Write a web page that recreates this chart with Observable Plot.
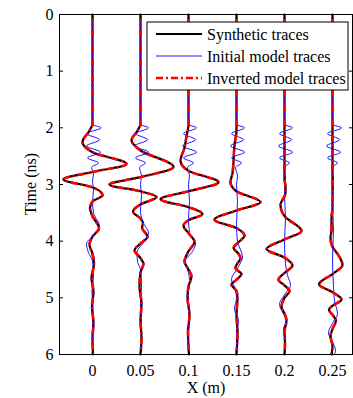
<!DOCTYPE html>
<html>
<head>
<meta charset="utf-8">
<script src="https://cdn.jsdelivr.net/npm/d3@7"></script>
<script src="https://cdn.jsdelivr.net/npm/@observablehq/plot@0.6"></script>
<style>
  html, body { margin: 0; padding: 0; background: #fff; }
</style>
</head>
<body>
<div id="chart"></div>
<script>
// Receiver offsets (m) and axis ticks
const offsets = [0, 0.05, 0.1, 0.15, 0.2, 0.25];
const timeTicks = [0, 1, 2, 3, 4, 5, 6];

// Trace samples: [time (ns), amplitude]
const synth0 = [[0,0],[1.93,0],[2.05,-3],[2.25,-10],[2.43,0],[2.64,34],[2.78,0],[2.91,-29],[3.05,0],[3.19,10],[3.30,0],[3.42,-2.5],[3.56,0],[3.77,6.5],[3.92,0],[4.06,-3],[4.22,0],[4.40,1.5],[4.65,-1],[4.90,1],[5.15,-0.5],[5.45,1],[5.70,0],[6,0.5]];
const synth1 = [[0,0],[1.93,0],[2.05,-3],[2.22,-9],[2.40,0],[2.69,33],[2.87,0],[3.00,-31],[3.12,0],[3.22,16],[3.35,0],[3.48,-7.5],[3.60,0],[3.68,2.5],[3.76,1.5],[3.92,7],[4.04,0],[4.16,-6],[4.30,0],[4.40,3],[4.55,0],[4.80,-1],[5.10,1],[5.40,0],[5.70,1],[6,0]];
const synth2 = [[0,0],[1.95,0],[2.15,-2],[2.35,-4],[2.58,-8],[2.76,0],[2.96,30],[3.12,0],[3.26,-28],[3.40,0],[3.52,14],[3.63,0],[3.73,-5],[3.86,0],[4.01,6],[4.18,0],[4.36,-4],[4.50,0],[4.62,3],[4.80,0],[5.00,-1],[5.30,1],[5.60,-0.5],[6,0.5]];
const synth3 = [[0,0],[2.05,0],[2.30,-2],[2.60,-3],[2.80,-4],[2.96,-6],[3.12,0],[3.31,24],[3.46,0],[3.62,-22],[3.77,0],[3.90,8],[4.05,0],[4.12,-3],[4.22,2],[4.30,4],[4.42,0],[4.48,-1],[4.58,5],[4.68,0],[4.77,-5],[4.88,0],[5.00,1],[5.30,0],[5.60,1],[6,0]];
const synth4 = [[0,0],[2.90,0],[3.05,1],[3.15,1],[3.36,-4],[3.56,0],[3.82,17],[3.97,0],[4.14,-18],[4.29,0],[4.43,8],[4.56,0],[4.68,-6],[4.78,0],[4.88,5],[5.00,0],[5.16,-3],[5.28,0],[5.40,2],[5.60,0],[5.80,0.5],[6,0]];
const synth5 = [[0,0],[3.40,0],[3.60,-1],[3.80,-1],[3.95,-2],[4.10,0],[4.25,6],[4.42,10],[4.58,0],[4.76,-13.5],[4.90,0],[5.03,9],[5.14,0],[5.21,-3.5],[5.30,0],[5.40,3.5],[5.55,0],[5.68,-2],[5.85,0],[6,-1]];

const init0 = [[0,0],[1.94,0],[2.00,8.5],[2.10,-6],[2.21,7],[2.32,-6],[2.43,8],[2.53,-5],[2.62,6],[2.70,-1],[2.80,1],[2.95,0],[3.10,1],[3.30,0],[3.50,1],[3.74,7],[3.88,2],[4.05,-6],[4.20,-4],[4.35,0],[4.60,1],[4.90,-0.5],[5.20,0.5],[5.60,0],[6,0]];
const init1 = [[0,0],[1.94,0],[2.00,8],[2.10,-5],[2.21,7],[2.32,-6],[2.43,8],[2.53,-5],[2.62,5],[2.70,-1],[2.85,1],[3.00,0],[3.20,1],[3.45,0],[3.65,2],[3.86,8],[4.00,4],[4.20,-3.5],[4.36,-3],[4.50,0],[4.80,1],[5.10,0],[5.50,1],[6,0]];
const init2 = [[0,0],[1.94,0],[2.00,8],[2.10,-5],[2.21,7],[2.32,-6],[2.43,8],[2.53,-5],[2.62,5],[2.70,-1],[2.85,1],[3.00,0],[3.30,1],[3.60,0],[3.85,1],[4.05,7],[4.18,4],[4.38,-4],[4.50,-1],[4.70,1],[5.00,-0.5],[5.30,1],[5.60,0],[6,0]];
const init3 = [[0,0],[1.94,0],[2.00,8],[2.10,-5],[2.21,7],[2.32,-6],[2.43,8],[2.53,-5],[2.62,5],[2.70,-1],[2.85,1],[3.00,0],[3.30,1],[3.70,0],[4.00,1],[4.28,6],[4.45,2],[4.68,-5],[4.85,-1],[5.00,0],[5.20,-2],[5.40,2],[5.60,0],[6,0]];
const init4 = [[0,0],[1.94,0],[2.00,8],[2.10,-5],[2.21,7],[2.32,-6],[2.43,8],[2.53,-5],[2.62,5],[2.70,-1],[2.90,1],[3.20,0],[3.60,1],[4.00,0],[4.40,1],[4.60,3],[4.78,6],[4.92,1],[5.12,-5],[5.25,-2],[5.40,2],[5.55,-1],[5.80,1],[6,0]];
const init5 = [[0,0],[1.94,0],[2.00,9],[2.10,-5],[2.21,7],[2.32,-6],[2.43,8],[2.53,-5],[2.62,5],[2.70,-1],[2.90,1],[3.30,0],[3.80,1],[4.30,0],[4.80,1],[5.05,2],[5.28,5],[5.45,0],[5.62,-4],[5.78,0],[5.93,3],[6,2]];

const synthetic = [synth0, synth1, synth2, synth3, synth4, synth5];
const initial = [init0, init1, init2, init3, init4, init5];
// the inversion reproduces the synthetic traces
const inverted = synthetic;

const seriesNames = ["Synthetic traces", "Initial model traces", "Inverted model traces"];

// wiggle gain: amplitude units -> metres of horizontal deflection
const gain = 0.05 / 48;

function rows(traces) {
  return traces.flatMap((tr, i) => tr.map(([t, a]) => ({trace: i, t, x: offsets[i] + a * gain})));
}

const W = 353, H = 398;
const mL = 59, mR = 1, mT = 14, mB = 44;
const xPerPx = 0.05 / 48;
const xMin = offsets[0] - (92 - mL) * xPerPx;
const xMax = offsets[0] + (W - mR - 92) * xPerPx;

const dashDot = "7,3,2,3";
const font = "'Liberation Serif', 'Times New Roman', serif";

const svg = Plot.plot({
  width: W,
  height: H,
  marginLeft: mL,
  marginRight: mR,
  marginTop: mT,
  marginBottom: mB,
  style: {fontFamily: font, fontSize: "16px", background: "white", color: "black"},
  x: {domain: [xMin, xMax]},
  y: {domain: [0, 6], reverse: true},
  marks: [
    Plot.line(rows(synthetic), {x: "x", y: "t", z: "trace", stroke: "black", strokeWidth: 2.2, curve: "monotone-y"}),
    Plot.line(rows(initial), {x: "x", y: "t", z: "trace", stroke: "#0000ff", strokeWidth: 0.9, curve: "monotone-y"}),
    Plot.line(rows(inverted), {x: "x", y: "t", z: "trace", stroke: "#ff0000", strokeWidth: 2.6, strokeDasharray: dashDot, strokeLinecap: "butt", curve: "monotone-y"}),
    Plot.frame({stroke: "black", strokeWidth: 1}),
    Plot.axisX({anchor: "bottom", ticks: offsets, tickSize: -4, tickPadding: 14, tickFormat: d => String(d), label: null}),
    Plot.axisX({anchor: "top", ticks: offsets, tickSize: -4, tickFormat: () => "", label: null}),
    Plot.axisY({anchor: "left", ticks: timeTicks, tickSize: -4, tickPadding: 10, tickFormat: d => String(d), label: null}),
    Plot.axisY({anchor: "right", ticks: timeTicks, tickSize: -4, tickFormat: () => "", label: null})
  ]
});

document.getElementById("chart").appendChild(svg);

const s = d3.select(svg);

// axis titles
s.append("text")
  .attr("transform", "translate(36,184) rotate(-90)")
  .attr("text-anchor", "middle")
  .style("font-family", font).style("font-size", "16px").style("fill", "black")
  .text("Time (ns)");
s.append("text")
  .attr("x", 206).attr("y", 393)
  .attr("text-anchor", "middle")
  .style("font-family", font).style("font-size", "16px").style("fill", "black")
  .text("X (m)");

// legend
const lg = s.append("g").attr("transform", "translate(147,22)");
lg.append("rect")
  .attr("x", 0).attr("y", 0).attr("width", 201).attr("height", 68)
  .style("fill", "white").style("stroke", "black").style("stroke-width", "1px");
const legendStyles = [
  {stroke: "black", width: 2.2, dash: "none"},
  {stroke: "#0000ff", width: 0.9, dash: "none"},
  {stroke: "#ff0000", width: 2.6, dash: dashDot}
];
seriesNames.forEach((name, i) => {
  const y = 12 + i * 22;
  const st = legendStyles[i];
  lg.append("line").attr("x1", 9).attr("x2", 55).attr("y1", y).attr("y2", y)
    .style("stroke", st.stroke).style("stroke-width", st.width + "px")
    .style("stroke-dasharray", st.dash).style("stroke-linecap", "butt");
  lg.append("text").attr("x", 60).attr("y", y + 5.5)
    .attr("text-anchor", "start")
    .style("font-family", font).style("font-size", "16px").style("fill", "black")
    .text(name);
});
</script>
</body>
</html>
